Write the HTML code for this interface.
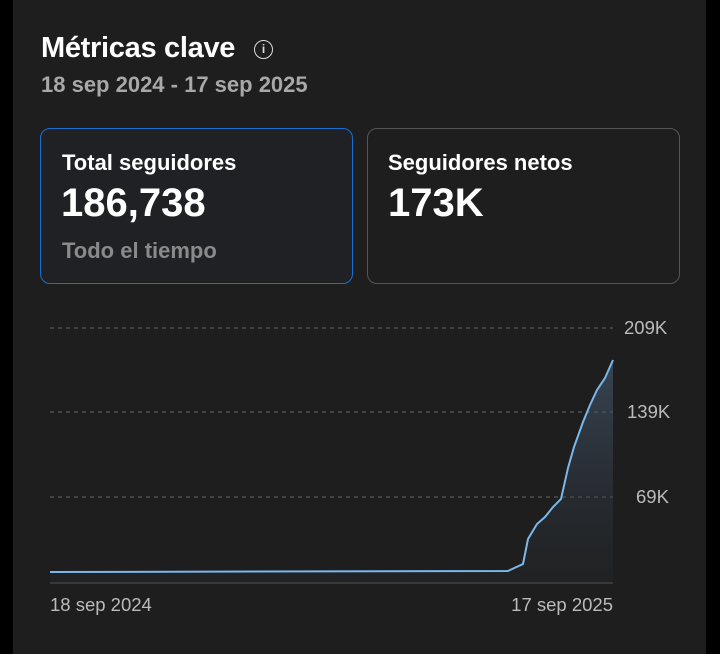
<!DOCTYPE html>
<html><head><meta charset="utf-8"><style>
html,body{margin:0;width:720px;height:654px;background:#000;overflow:hidden;font-family:"Liberation Sans",sans-serif}
.panel{position:absolute;left:13px;top:-20px;width:693px;height:674px;background:#1e1e1e;border-radius:18px 18px 0 0}
.t{position:absolute;color:#fff;white-space:nowrap}
.card{position:absolute;top:128px;height:156px;border-radius:10px;box-sizing:border-box}
</style></head><body>
<div class="panel"></div>
<div class="t" style="left:41px;top:32px;font-size:29px;font-weight:bold;letter-spacing:-0.3px">Métricas clave</div>
<div style="position:absolute;left:254px;top:40px;width:19px;height:19px;border:1.5px solid #ddd;border-radius:50%;box-sizing:border-box;color:#ddd;font-size:12px;text-align:center;line-height:17px;font-weight:bold">i</div>
<div class="t" style="left:41px;top:72px;font-size:22px;font-weight:bold;color:#a8a8a8">18 sep 2024 - 17 sep 2025</div>
<div class="card" style="left:40px;width:313px;border:1.5px solid #1a6ed0;background:#1f2125"></div>
<div class="card" style="left:367px;width:313px;border:1.5px solid #555;background:#1e1e1e"></div>
<div class="t" style="left:62px;top:150px;font-size:22px;font-weight:bold">Total seguidores</div>
<div class="t" style="left:61px;top:181px;font-size:40px;font-weight:bold">186,738</div>
<div class="t" style="left:62px;top:238px;font-size:22px;font-weight:bold;color:#8a8a8a">Todo el tiempo</div>
<div class="t" style="left:388px;top:150px;font-size:22px;font-weight:bold">Seguidores netos</div>
<div class="t" style="left:388px;top:181px;font-size:40px;font-weight:bold">173K</div>
<svg style="position:absolute;left:0;top:0" width="720" height="654">
<defs><linearGradient id="g" x1="0" y1="0" x2="0" y2="1"><stop offset="0" stop-color="#4a6078" stop-opacity="0.6"/><stop offset="1" stop-color="#2a3038" stop-opacity="0.2"/></linearGradient></defs>
<g stroke="#666" stroke-dasharray="4,4" stroke-width="1"><line x1="50" y1="328" x2="613" y2="328"/><line x1="50" y1="412" x2="613" y2="412"/><line x1="50" y1="497" x2="613" y2="497"/></g>
<line x1="50" y1="583" x2="613" y2="583" stroke="#555"/>
<path d="M50,572 L508,571 L510,570 L523,564 L528,539 L537,524 L545,517 L553,507 L561,499 L568,468 L574,447 L583,422 L590,405 L597,390 L605,378 L613,360 L613,583 L50,583Z" fill="url(#g)"/>
<path d="M50,572 L508,571 L510,570 L523,564 L528,539 L537,524 L545,517 L553,507 L561,499 L568,468 L574,447 L583,422 L590,405 L597,390 L605,378 L613,360" fill="none" stroke="#7ab8ec" stroke-width="2"/>
<g fill="#bbb" font-size="18.5" font-family="Liberation Sans"><text x="624" y="334">209K</text><text x="627" y="418">139K</text><text x="636" y="503">69K</text>
<text x="50" y="611">18 sep 2024</text><text x="613" y="611" text-anchor="end">17 sep 2025</text></g>
</svg>
</body></html>
